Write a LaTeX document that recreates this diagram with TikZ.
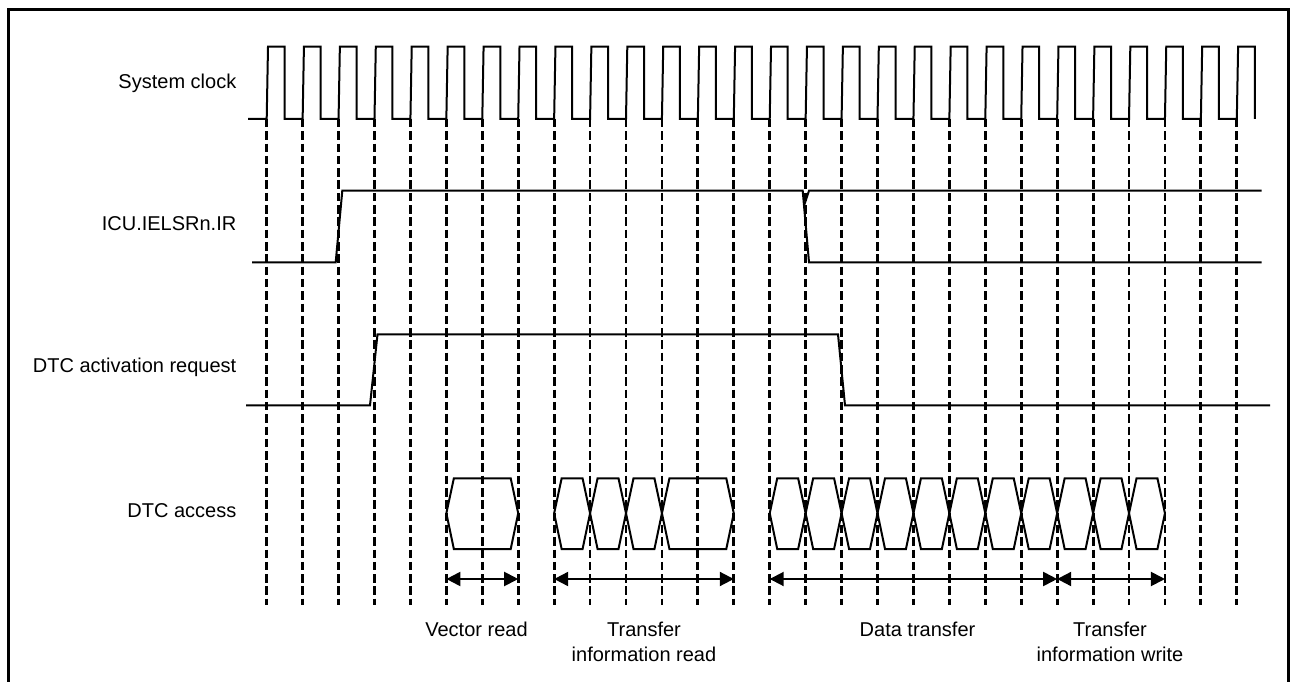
\documentclass[tikz,border=0pt]{standalone}
\usepackage{fontspec}
\setmainfont{Liberation Sans}
\usepackage{tikz}
\usetikzlibrary{arrows.meta,calc}

\begin{document}
\begin{tikzpicture}[x=1pt, y=-1pt,
    signal/.style={line width=2pt, line join=miter},
    gridline/.style={line width=2.8pt, dash pattern=on 8.5pt off 3.8pt},
    slot/.style={line width=2pt, line join=miter},
    span/.style={line width=2pt,
                 {Triangle[length=14pt,width=14pt]}-{Triangle[length=14pt,width=14pt]}},
    lbl/.style={font=\fontsize{20}{25}\selectfont, anchor=east, inner sep=0pt},
    note/.style={font=\fontsize{20}{25}\selectfont, align=center,
                 anchor=north, inner sep=0pt},
]
\useasboundingbox (0,0) rectangle (1291,682);
\pgfmathsetmacro\xo{266.7}
\pgfmathsetmacro\per{35.93}

% Frame
\draw[line width=3pt] (8.3,682) -- (8.3,10) -- (1288,10) -- (1288,682);

% Signal names
\node[lbl] (clklbl) at (236.5,83) {System clock};
\node[lbl] (irlbl)  at (236.5,224) {ICU.IELSRn.IR};
\node[lbl] (reqlbl) at (236.5,367) {DTC activation request};
\node[lbl] (acclbl) at (236.5,511) {DTC access};

% Clock edges (dashed)
\foreach \k in {0,...,27}{
  \draw[gridline] ({\xo+\k*\per},119) -- ({\xo+\k*\per},605);
  \coordinate (g\k) at ({\xo+\k*\per},579);
}

% System clock
\draw[signal] (248,119)
  foreach \k in {0,...,27}{
    -- ({\xo+\k*\per},119) -- ({\xo+\k*\per+1.3},46.7)
    -- ({\xo+\k*\per+18},46.7) -- ({\xo+\k*\per+18},119)
  };

% ICU.IELSRn.IR
\draw[signal] (252,262.3) -- (335.7,262.3) -- (342.3,190.7) -- (802.7,190.7)
  -- (809,262.3) -- (1261.7,262.3);
\draw[signal] (804.2,205) -- (809,190.7) -- (1261.7,190.7);

% DTC activation request
\draw[signal] (246,405.3) -- (370,405.3) -- (377.5,334.3) -- (838,334.3)
  -- (845,405.3) -- (1270,405.3);

% DTC access
\foreach \a/\b in {5/7, 8/9, 9/10, 10/11, 11/13,
                   14/15, 15/16, 16/17, 17/18, 18/19, 19/20, 20/21, 21/22,
                   22/23, 23/24, 24/25}
  \draw[slot] ({\xo+\a*\per},513.3) -- ({\xo+\a*\per+7.5},478.3)
    -- ({\xo+\b*\per-7.5},478.3) -- ({\xo+\b*\per},513.3)
    -- ({\xo+\b*\per-7.5},549) -- ({\xo+\a*\per+7.5},549) -- cycle;

% Phases
\draw[span] (g5) -- (g7);
\draw[span] (g8) -- (g13);
\draw[span] (g14) -- (g22);
\draw[span] (g22) -- (g25);

\node[note] (vecnote) at (476.5,622) {Vector read};
\node[note] (tirnote) at (644,622) {Transfer\\information read};
\node[note] (datnote) at (917.5,622) {Data transfer};
\node[note] (tiwnote) at (1110,622) {Transfer\\information write};

\end{tikzpicture}
\end{document}
